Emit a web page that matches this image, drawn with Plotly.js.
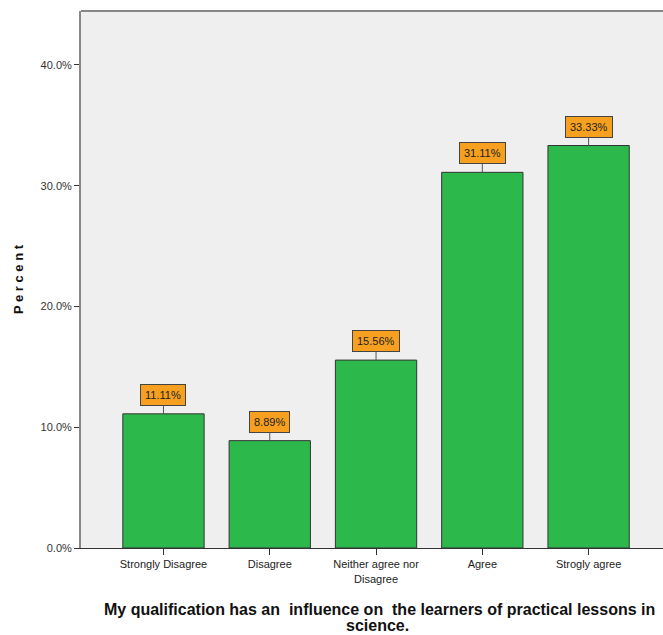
<!DOCTYPE html>
<html><head><meta charset="utf-8">
<script src="https://cdn.plot.ly/plotly-3.0.1.min.js"></script>
<style>body{margin:0;padding:0;background:#fff;overflow:hidden}</style>
</head><body>
<div id="chart" style="width:663px;height:635px"></div>
<script>
const categories = ["Strongly Disagree", "Disagree", "Neither agree nor<br>Disagree", "Agree", "Strogly agree"];
const percents = [11.11, 8.89, 15.56, 31.11, 33.33];
const labels = ["11.11%", "8.89%", "15.56%", "31.11%", "33.33%"];
const yTicks = [0, 10, 20, 30, 40];
const yTickText = ["0.0%", "10.0%", "20.0%", "30.0%", "40.0%"];
const titleLines = ["My qualification has an  influence on  the learners of practical lessons in", "science."];

const sans = "Liberation Sans, Arial, sans-serif";

const trace = {
  type: "bar",
  x: categories,
  y: percents,
  width: 0.765,
  marker: {color: "#2db84c", line: {color: "#333333", width: 1}},
  hoverinfo: "none"
};

const annotations = categories.map((c, i) => ({
  x: c, y: percents[i], xref: "x", yref: "y",
  text: labels[i],
  showarrow: true, arrowhead: 0, arrowwidth: 1, arrowcolor: "#555555",
  ax: 0, ay: -19,
  bgcolor: "#f7a01f", bordercolor: "#444444", borderwidth: 1, borderpad: 4,
  font: {family: sans, size: 11, color: "#222222"}
}));

annotations.push({
  xref: "paper", yref: "paper", x: 0.513, y: -0.115, yanchor: "middle",
  showarrow: false, text: titleLines[0],
  font: {family: sans, size: 16, color: "#111111", weight: "bold"}
});
annotations.push({
  xref: "paper", yref: "paper", x: 0.51, y: -0.144, yanchor: "middle",
  showarrow: false, text: titleLines[1],
  font: {family: sans, size: 16, color: "#111111", weight: "bold"}
});

const layout = {
  width: 663, height: 635,
  margin: {l: 81, r: 0, t: 11, b: 87},
  paper_bgcolor: "#ffffff",
  plot_bgcolor: "#efefef",
  showlegend: false,
  xaxis: {
    type: "category",
    range: [-0.776, 4.70],
    showgrid: false, zeroline: false,
    showline: true, linecolor: "#333333", linewidth: 1,
    ticks: "outside", ticklen: 6, tickcolor: "#333333",
    tickfont: {family: sans, size: 11, color: "#222222"},
    fixedrange: true
  },
  yaxis: {
    range: [0, 44.47],
    tickvals: yTicks, ticktext: yTickText,
    showgrid: false, zeroline: false,
    showline: true, linecolor: "#888888", linewidth: 2,
    ticks: "outside", ticklen: 5, tickcolor: "#333333",
    tickfont: {family: sans, size: 11, color: "#333333"},
    title: {text: "P e r c e n t", font: {family: sans, size: 13, color: "#111111", weight: "bold"}, standoff: 14},
    fixedrange: true
  },
  shapes: [
    {type: "line", xref: "paper", yref: "paper", x0: 0, x1: 1, y0: 1, y1: 1, line: {color: "#888888", width: 2}}
  ],
  annotations: annotations,
  bargap: 0.235
};

Plotly.newPlot("chart", [trace], layout, {displayModeBar: false, staticPlot: true});
</script>
</body></html>
